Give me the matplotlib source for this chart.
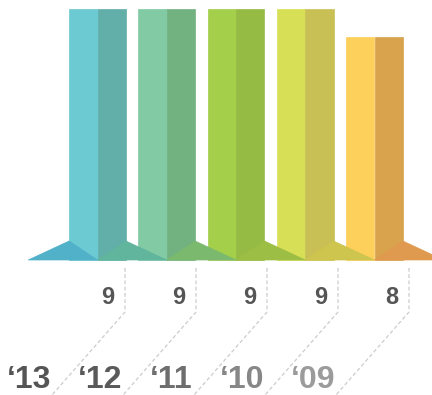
"""Stacked-box style yearly score chart"""

import matplotlib.pyplot as plt

years = ["\u201813", "\u201812", "\u201811", "\u201810", "\u201809"]
scores = [9, 9, 9, 9, 8]

front_colors = ["#6ccad3", "#82caa3", "#a3cf4a", "#d7df56", "#fdd05b"]
side_colors = ["#62afaa", "#71b280", "#95bb45", "#c8c055", "#d9a34d"]
floor_colors = ["#60b59c", "#7bb96f", "#9dbe44", "#cdc54e", "#e09a50"]
lead_color = "#50b1c9"
year_colors = ["#555555", "#5a5a5a", "#6e6e6e", "#878787", "#9b9b9b"]

W, H = 432, 395
PX_X = 69.25   # pixels per bar slot
PX_Y = 27.9    # pixels per score point

fig = plt.figure(figsize=(W / 100, H / 100), dpi=100)
ax = fig.add_axes([0, 0, 1, 1])
ax.set_xlim(-97.5 / PX_X, (W - 97.5) / PX_X)
ax.set_ylim(-(H - 260) / PX_Y, 260 / PX_Y)
ax.axis("off")

w = 0.41      # face width
d = 19 / PX_Y  # floor depth

xs = list(range(len(scores)))

# faces (edge in same colour to close the antialiasing seams)
ax.bar([x - w for x in xs], scores, width=w, align="edge",
       color=front_colors, edgecolor=front_colors, linewidth=0.5, zorder=1)
ax.bar(xs, scores, width=w, align="edge",
       color=side_colors, edgecolor=side_colors, linewidth=0.5, zorder=1)

# floor shadows
ax.fill([-1, -w, 0], [0, d, 0], color=lead_color, lw=0.5, zorder=2)
for x, c in zip(xs, floor_colors):
    ax.fill([x, x + w, x + 1], [0, d, 0], color=c, lw=0.5, zorder=2)

# dashed leader lines and labels
step = 71 / PX_X
x0 = 27.5 / PX_X
y_top = (260 - 268) / PX_Y
y_knee = (260 - 312) / PX_Y
y_end = (260 - 400) / PX_Y
slope = (73 / PX_X) / (83 / PX_Y)
for i, (yr, s) in enumerate(zip(years, scores)):
    lx = x0 + i * step
    ax.plot([lx, lx, lx - slope * (y_knee - y_end)],
            [y_top, y_knee, y_end],
            color="#cccccc", lw=0.9, ls=(0, (3, 2)), zorder=3)
    ax.text(lx - 11 / PX_X, (260 - 297) / PX_Y, str(s),
            ha="right", va="center", fontsize=17, fontweight="bold",
            color="#555555", family="Liberation Sans")
    ax.text(lx - 74 / PX_X, (260 - 388) / PX_Y, yr,
            ha="right", va="baseline", fontsize=23, fontweight="bold",
            color=year_colors[i], family="Liberation Sans")

fig.savefig("out.png", dpi=100, facecolor="white")
